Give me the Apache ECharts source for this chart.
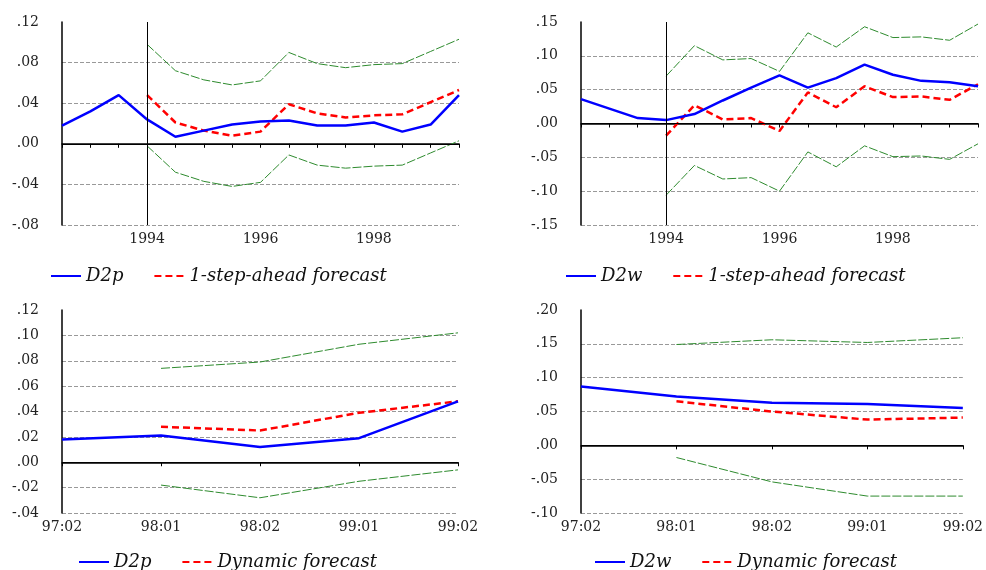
<!DOCTYPE html>
<html>
<head>
<meta charset="utf-8">
<script src="https://cdn.jsdelivr.net/npm/echarts@6/dist/echarts.min.js"></script>
<style>
  html, body { margin: 0; padding: 0; background: #fff; }
  #chart { width: 986px; height: 570px; }
</style>
</head>
<body>
<div id="chart"></div>
<script>
// 半年度样本 1992:2 - 1999:2
const yearCats = ['1992:2', '1993:1', '1993:2', '1994:1', '1994:2', '1995:1', '1995:2', '1996:1',
  '1996:2', '1997:1', '1997:2', '1998:1', '1998:2', '1999:1', '1999:2']
const yearTicks = ['1994:1', '1996:1', '1998:1']
const dynCats = ['97:02', '98:01', '98:02', '99:01', '99:02']

// D2p, 1-step-ahead
const d2p = [0.018, 0.032, 0.048, 0.024, 0.007, 0.013, 0.019, 0.022, 0.023, 0.018, 0.018, 0.021, 0.012, 0.019, 0.048]
const d2pFcst = [null, null, null, 0.048, 0.021, 0.013, 0.008, 0.012, 0.039, 0.030, 0.026, 0.028, 0.029, 0.041, 0.053]
const d2pUpper = [null, null, null, 0.098, 0.072, 0.063, 0.058, 0.062, 0.090, 0.079, 0.075, 0.078, 0.079, 0.091, 0.103]
const d2pLower = [null, null, null, -0.002, -0.028, -0.037, -0.042, -0.038, -0.011, -0.021, -0.024, -0.022, -0.021, -0.009, 0.003]

// D2w, 1-step-ahead
const d2w = [0.036, 0.022, 0.008, 0.005, 0.014, 0.034, 0.053, 0.071, 0.053, 0.067, 0.087, 0.072, 0.063, 0.061, 0.055]
const d2wFcst = [null, null, null, -0.018, 0.027, 0.006, 0.008, -0.011, 0.046, 0.024, 0.055, 0.039, 0.040, 0.035, 0.058]
const d2wUpper = [null, null, null, 0.070, 0.115, 0.094, 0.096, 0.077, 0.134, 0.113, 0.143, 0.127, 0.128, 0.123, 0.147]
const d2wLower = [null, null, null, -0.106, -0.062, -0.082, -0.080, -0.100, -0.042, -0.064, -0.033, -0.049, -0.048, -0.053, -0.030]

// dynamic forecast 97:02 - 99:02
const d2pDyn = [0.018, 0.021, 0.012, 0.019, 0.048]
const d2pDynFcst = [null, 0.028, 0.025, 0.039, 0.048]
const d2pDynUpper = [null, 0.074, 0.079, 0.093, 0.102]
const d2pDynLower = [null, -0.018, -0.028, -0.015, -0.006]

const d2wDyn = [0.087, 0.072, 0.063, 0.061, 0.055]
const d2wDynFcst = [null, 0.065, 0.050, 0.038, 0.041]
const d2wDynUpper = [null, 0.149, 0.156, 0.152, 0.159]
const d2wDynLower = [null, -0.018, -0.054, -0.075, -0.075]

const FONT = 'DejaVu Serif'

const fmtY = (v) => v.toFixed(2).replace('0.', '.')

const makeX = (idx, cats, labelFn) => ({
  type: 'category',
  gridIndex: idx,
  data: cats,
  boundaryGap: false,
  axisLine: { lineStyle: { color: '#000', width: 1.5 } },
  axisTick: { show: true, interval: 0, length: 4, lineStyle: { color: '#000' } },
  axisLabel: {
    interval: labelFn,
    formatter: (v) => v.length > 5 ? v.slice(0, 4) : v,
    color: '#222', fontFamily: FONT, fontSize: 14, margin: 7
  },
  splitLine: { show: false }
})

const makeY = (idx, min, max, interval) => ({
  type: 'value',
  gridIndex: idx,
  min, max, interval,
  axisLine: { show: true, lineStyle: { color: '#000', width: 1.5 } },
  axisTick: { show: false },
  axisLabel: { formatter: fmtY, color: '#222', fontFamily: FONT, fontSize: 14, margin: 23 },
  splitLine: { show: true, showMaxLine: false, lineStyle: { color: '#999', type: [4, 2], width: 1 } }
})

const refLines = (withVertical) => {
  const data = [{ yAxis: 0 }]
  if (withVertical) data.push({ xAxis: '1994:1' })
  return {
    silent: true, symbol: 'none', animation: false,
    label: { show: false },
    lineStyle: { color: '#000', type: 'solid', width: 1 },
    data
  }
}

const makeSeries = (idx, name, fcstName, actual, fcst, upper, lower, withVertical) => [
  {
    name: 'band', type: 'line', xAxisIndex: idx, yAxisIndex: idx, data: upper,
    symbol: 'none', lineStyle: { color: '#2e8b2e', width: 1, type: [9, 2] }
  },
  {
    name: 'band', type: 'line', xAxisIndex: idx, yAxisIndex: idx, data: lower,
    symbol: 'none', lineStyle: { color: '#2e8b2e', width: 1, type: [9, 2] }
  },
  {
    name: fcstName, type: 'line', xAxisIndex: idx, yAxisIndex: idx, data: fcst,
    symbol: 'none', z: 3, color: '#ff0000', lineStyle: { color: '#ff0000', width: 2.5, type: [7, 4] }
  },
  {
    name, type: 'line', xAxisIndex: idx, yAxisIndex: idx, data: actual,
    symbol: 'none', z: 4, color: '#0000ff', lineStyle: { color: '#0000ff', width: 2.5 },
    markLine: refLines(withVertical)
  }
]

const makeLegend = (left, top, names) => ({
  left, top, orient: 'horizontal',
  data: names,
  itemWidth: 30, itemHeight: 14, itemGap: 30,
  selectedMode: false,
  itemStyle: { opacity: 0 },
  textStyle: { fontFamily: FONT, fontStyle: 'italic', fontSize: 18, color: '#111' }
})

const yearLabel = (i, v) => yearTicks.includes(v)

const chart = echarts.init(document.getElementById('chart'), null, { renderer: 'canvas' })
chart.setOption({
  animation: false,
  backgroundColor: '#fff',
  grid: [
    { left: 62, right: 527, top: 22, bottom: 345 },
    { left: 581, right: 8, top: 22, bottom: 345 },
    { left: 62, right: 528, top: 310, bottom: 57 },
    { left: 581, right: 9, top: 310, bottom: 57 }
  ],
  xAxis: [
    makeX(0, yearCats, yearLabel),
    makeX(1, yearCats, yearLabel),
    makeX(2, dynCats, 0),
    makeX(3, dynCats, 0)
  ],
  yAxis: [
    makeY(0, -0.08, 0.12, 0.04),
    makeY(1, -0.15, 0.15, 0.05),
    makeY(2, -0.04, 0.12, 0.02),
    makeY(3, -0.10, 0.20, 0.05)
  ],
  legend: [
    makeLegend(45, 262, ['D2p', '1-step-ahead forecast']),
    makeLegend(560, 262, ['D2w', '1-step-ahead forecast']),
    makeLegend(73, 548, ['D2p', 'Dynamic forecast']),
    makeLegend(589, 548, ['D2w', 'Dynamic forecast'])
  ],
  series: [
    ...makeSeries(0, 'D2p', '1-step-ahead forecast', d2p, d2pFcst, d2pUpper, d2pLower, true),
    ...makeSeries(1, 'D2w', '1-step-ahead forecast', d2w, d2wFcst, d2wUpper, d2wLower, true),
    ...makeSeries(2, 'D2p', 'Dynamic forecast', d2pDyn, d2pDynFcst, d2pDynUpper, d2pDynLower, false),
    ...makeSeries(3, 'D2w', 'Dynamic forecast', d2wDyn, d2wDynFcst, d2wDynUpper, d2wDynLower, false)
  ]
})
</script>
</body>
</html>
